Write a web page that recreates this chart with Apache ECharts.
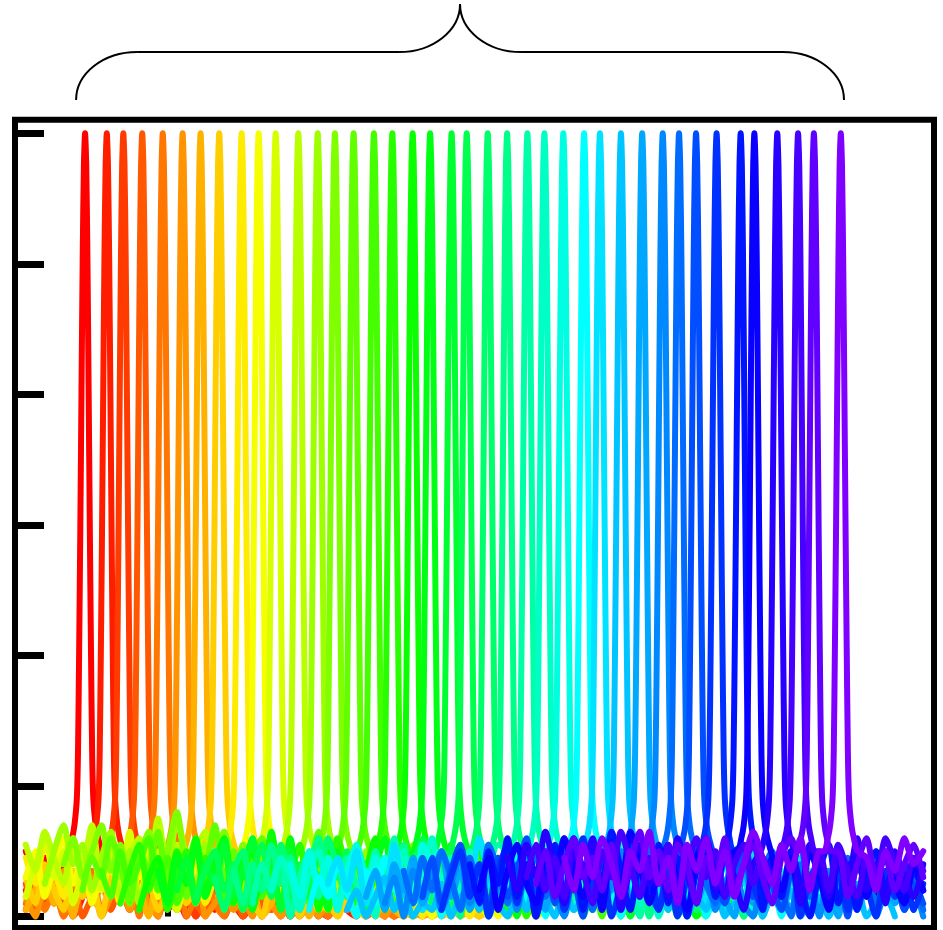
<!DOCTYPE html>
<html>
<head>
<meta charset="utf-8">
<script src="https://cdn.jsdelivr.net/npm/echarts@6/dist/echarts.min.js"></script>
<style>
html,body{margin:0;padding:0;background:#fff;}
#chart{width:943px;height:930px;}
</style>
</head>
<body>
<div id="chart"></div>
<script>
// ---- data ----
// peak centres (x units; axis ticks at 100,200,300,400)
const peakPositions = [65.1,74.3,81.3,89.3,98.0,106.4,114.0,121.9,131.4,138.6,145.8,155.4,163.6,170.9,178.8,187.4,195.2,203.8,211.2,220.3,226.7,235.6,243.8,252.4,259.6,267.6,276.4,283.1,292.0,301.0,309.7,316.6,323.8,332.5,342.7,348.5,358.2,367.0,373.7,385.1];
// common peak profile (offset from centre, height)
const peakOffsets = [-7,-5.5,-4.5,-3.5,-3,-2.5,-2,-1.5,-1,-0.5,0,0.5,1,1.5,2,2.5,3,3.5,4.5,5.5,7];
const peakHeights = [0.10,0.12,0.14,0.18,0.25,0.41,0.6,0.81,1.01,1.15,1.2,1.15,1.01,0.81,0.6,0.41,0.25,0.18,0.14,0.12,0.10];
// background noise of each trace (hundredths), sampled every 4 x units
const noiseStep = 4;
const noiseGridStart = 40;
const noiseGridEnd = 420;
const noiseHalfWindow = 118;
const baselineNoise = [
[10,7,9,6,8,5,7,9,6,3,5,1,4,2,6,1,3,0,4,2,5,1,3,0,2,4,1,3,0,2,1,3,0,2,1,2,1],
[4,1,6,2,5,0,3,6,1,4,2,7,1,3,0,5,2,4,0,3,1,5,2,0,3,1,4,0,2,1,3,0,2,4,1,0,2,1,0,1],
[1,5,2,6,0,4,7,2,5,1,3,6,0,4,2,5,1,3,0,4,2,0,3,1,5,0,2,1,3,0,2,1,0,2,1,3,0,1,2,0,1],
[5,1,4,7,2,6,0,3,5,1,6,2,4,0,3,6,1,4,2,0,5,1,3,0,4,2,1,3,0,2,4,1,0,2,1,3,0,1,2,0,1,2,0],
[2,6,1,4,0,5,3,7,1,4,2,6,0,3,5,1,4,0,3,6,2,0,4,1,3,0,5,2,0,3,1,4,0,2,1,3,0,2,1,0,2,1,0,1,2,1],
[3,0,5,2,7,1,4,6,0,3,5,1,6,2,0,4,3,1,5,0,2,4,1,3,0,5,2,0,3,1,4,0,2,1,3,0,2,1,0,2,1,0,1,2,0,1,0,1],
[1,4,7,2,5,0,6,3,1,5,8,2,4,0,6,3,1,5,2,4,0,3,6,1,4,0,2,5,1,3,0,4,2,0,3,1,2,0,3,1,0,2,1,0,1,2,0,1,0,1],
[6,2,8,4,1,7,3,5,0,6,2,8,3,5,1,4,7,2,5,0,3,6,1,4,2,0,5,2,3,0,4,1,2,0,3,1,0,2,1,3,0,1,2,0,1,0,2,1,0,1,0],
[9,5,11,7,3,10,6,12,4,8,2,9,6,11,3,7,10,5,8,2,6,9,4,7,1,5,8,3,6,2,7,4,1,5,3,6,0,4,2,5,1,3,0,4,2,1,3,0,2,1,3,0,1,2],
[6,10,3,8,12,5,9,2,7,11,4,9,6,13,3,8,5,10,2,7,9,4,6,11,3,8,5,2,7,4,9,1,6,3,8,2,5,7,1,4,6,2,5,0,3,6,1,4,2,5,0,3,1,2,0],
[3,8,12,6,10,2,7,11,4,9,5,13,3,8,10,5,1,7,11,4,8,6,2,9,5,10,3,7,1,6,9,4,2,7,5,8,1,4,6,2,5,0,3,7,2,4,1,5,2,0,3,4,1,2,0,1,2],
[11,7,13,9,5,12,8,14,6,10,3,9,12,7,15,8,11,5,10,13,6,9,4,11,7,12,5,8,10,3,9,6,11,4,8,2,7,10,5,8,3,6,9,4,7,2,5,8,3,6,1,4,7,2,5,3,6,1,4,2],
[5,10,14,8,11,4,9,13,6,10,2,8,12,7,15,9,4,11,6,13,8,3,10,7,12,5,9,2,8,11,6,9,3,7,10,4,8,1,6,9,3,7,5,2,8,4,6,1,5,7,2,4,6,1,3,5,2,4,1,3],
[8,12,6,10,14,7,11,3,9,13,5,10,16,8,12,4,9,13,6,11,3,8,12,7,10,2,9,11,5,8,12,4,7,10,3,8,6,11,2,7,9,4,8,1,6,10,3,7,5,2,6,8,3,5,1,4,7,2,4,1],
[4,9,6,12,8,2,10,7,13,5,9,3,11,8,14,6,10,2,9,12,5,8,11,4,7,13,6,9,1,7,10,5,8,3,11,6,2,8,5,9,3,7,10,4,6,1,8,5,3,7,2,6,4,1,5,7,2,4,1,3],
[7,3,10,5,8,12,4,9,2,7,11,5,9,1,8,6,12,3,7,10,4,8,2,11,6,9,3,7,12,5,8,1,6,10,4,7,2,9,5,3,8,11,4,6,1,7,9,3,5,2,8,4,6,0,5,3,7,1,4,2],
[2,7,11,4,8,1,6,10,3,9,5,12,2,7,10,4,8,1,6,11,3,9,5,12,7,2,8,4,10,6,1,9,5,7,3,8,11,4,2,6,9,3,7,0,5,8,2,6,4,1,7,3,5,0,4,6,2,3,1,2],
[1,6,9,3,10,5,12,4,8,11,2,7,10,5,13,6,9,3,8,1,11,6,9,4,7,12,5,2,9,6,10,3,7,11,4,8,1,6,9,3,7,10,2,5,8,3,6,0,5,8,2,4,7,1,5,3,6,0,3,2],
[7,2,9,5,11,3,8,12,4,9,1,7,10,5,12,3,8,6,1,10,5,9,2,7,12,4,8,3,10,6,1,9,4,7,11,3,8,5,0,7,10,4,6,2,8,5,1,6,3,7,0,4,6,2,5,1,3,0,2,1],
[4,9,2,8,5,11,3,7,12,4,9,1,10,6,3,11,7,2,8,10,4,9,1,7,11,5,8,2,10,6,4,9,3,11,6,1,8,5,2,7,10,4,1,8,5,9,2,6,0,4,7,2,5,1,6,3,0,4,1,3],
[3,7,10,4,8,1,6,11,3,9,2,8,5,12,4,7,10,3,1,9,6,11,2,8,12,5,9,3,7,10,4,1,8,5,10,3,7,2,6,9,4,0,7,5,8,2,6,1,4,7,3,5,0,4,2,5,1,3,1,2],
[6,1,7,10,3,8,5,11,6,2,9,4,12,7,3,9,5,10,1,6,11,4,8,2,7,0,9,5,10,3,7,12,4,8,1,6,3,10,5,2,8,4,7,0,6,9,3,2,7,4,6,1,5,8,2,5,0,4,2,3],
[7,2,8,4,11,5,9,1,7,12,4,9,3,10,6,1,8,5,11,2,7,10,4,9,0,6,3,10,5,8,12,6,2,9,4,10,3,7,1,8,5,11,3,7,0,5,9,4,1,7,3,6,2,5,0,4,7,2,4,1],
[2,8,4,9,0,6,10,3,8,1,9,5,2,10,6,12,4,8,1,7,10,3,9,5,2,7,11,4,9,3,7,10,5,1,8,4,11,6,2,9,5,0,7,3,10,5,1,7,4,9,2,6,3,8,0,5,2,4,6,1],
[4,9,6,1,7,10,3,8,5,11,6,0,9,4,10,2,7,12,5,9,3,10,6,1,8,5,11,7,2,9,4,10,1,7,3,8,5,11,6,2,8,0,5,10,3,7,1,5,9,3,6,0,5,8,2,6,4,7,1,3],
[8,3,10,5,9,1,7,11,4,9,2,10,6,3,11,8,2,6,10,4,8,0,7,10,3,9,5,11,6,2,8,4,10,1,7,3,9,11,4,8,2,6,10,5,1,9,4,7,2,8,0,5,7,3,6,1,5,2,6,3],
[1,6,3,8,4,0,7,2,9,5,1,8,3,6,0,5,9,2,7,1,8,4,10,2,6,0,8,5,1,7,3,9,4,0,6,3,8,1,5,9,2,6,0,4,8,3,1,7,2,5,0,6,1,3,5,0,4,1,3,2],
[5,9,4,10,2,7,4,11,5,8,1,7,10,3,9,5,12,6,2,8,4,10,1,7,11,3,8,4,7,10,5,1,9,6,11,3,7,10,4,8,2,7,1,9,5,10,3,8,2,6,9,4,7,0,5,8,3,5,1,4],
[1,4,0,3,6,1,4,0,2,1,5,0,3,4,1,7,2,0,4,1,6,3,0,5,1,3,6,0,3,1,4,0,2,6,1,4,0,3,1,5,0,2,1,6,0,3,1,4,0,2,3,0,3,1,5,0,2,3,0,1],
[3,7,1,8,4,9,2,6,10,3,7,1,6,9,2,8,4,10,5,1,8,3,9,2,6,11,4,7,1,9,5,0,8,4,10,2,6,9,3,0,8,2,6,9,4,1,7,3,8,5,0,6,3,5,1,7,2,4,1],
[2,6,0,7,3,8,1,5,9,2,6,0,5,8,1,7,3,9,4,0,6,3,8,1,5,10,2,7,1,8,4,0,7,3,9,1,5,8,2,0,7,3,5,8,1,6,0,7,3,5,1,6,0,4,7,1,4,0],
[7,2,9,4,10,6,1,9,3,11,7,2,8,5,10,3,7,12,4,8,1,7,10,3,9,5,11,6,1,8,4,10,5,2,9,6,11,3,7,10,4,0,8,3,7,1,6,9,3,7,2,6,9,3,6,1],
[3,9,2,7,11,5,8,1,9,3,7,12,4,8,2,10,6,0,8,5,11,3,7,10,4,1,9,3,7,11,5,8,2,7,10,3,9,5,1,7,11,4,8,2,7,0,8,5,10,3,7,1,5,2],
[1,6,10,3,8,0,7,11,2,8,0,6,10,1,7,12,4,9,0,5,11,3,8,1,7,0,6,10,3,9,0,7,11,5,1,9,3,10,0,6,8,2,7,1,10,5,0,7,3,8,1,5],
[8,2,10,5,12,3,8,0,7,11,3,9,1,10,5,13,7,1,8,4,11,2,9,0,7,10,3,8,5,12,6,1,9,3,10,5,0,7,11,2,8,1,7,10,4,9,2,7,4],
[4,9,1,7,11,5,2,10,5,12,7,3,9,1,10,4,13,8,2,7,11,5,1,9,12,6,3,10,5,0,8,11,4,9,2,10,6,1,9,4,11,3,7,10,5,2,8,4],
[9,4,11,6,13,7,2,10,6,12,4,9,1,8,11,5,10,3,12,7,2,9,4,11,6,1,8,12,5,10,7,2,11,8,3,9,6,12,4,8,2,10,6,3,8],
[6,11,4,9,3,12,7,2,10,6,13,8,3,9,5,11,4,8,12,6,10,3,8,11,5,9,6,2,8,12,5,10,4,11,7,3,9,6,12,8,4,9,7],
[5,10,3,8,12,6,9,4,11,3,8,13,6,10,4,11,8,2,9,6,12,4,8,11,6,2,9,12,7,4,11,6,10,3,8,12,6,9,4,8,11,6],
[9,4,11,6,12,8,3,10,7,13,5,9,2,11,7,12,5,10,3,8,13,9,5,11,7,12,4,10,6,11,7,13,9,4,10,7,12,8,10]
];
const xTickValues = [100,200,300,400];
const yTickValues = [0,0.2,0.4,0.6,0.8,1.0,1.2];
// brace span (x units) above the peaks
const braceSpan = [61.3, 386.45];

// ---- build ----
function hueColor(h){
  const c = 1, x = 1 - Math.abs((h/60)%2 - 1);
  let r,g,b;
  if(h<60){r=c;g=x;b=0;} else if(h<120){r=x;g=c;b=0;} else if(h<180){r=0;g=c;b=x;}
  else if(h<240){r=0;g=x;b=c;} else {r=x;g=0;b=c;}
  const hx=v=>Math.round(v*255).toString(16).padStart(2,'0');
  return '#'+hx(r)+hx(g)+hx(b);
}
const n = peakPositions.length;
const series = peakPositions.map((p,i)=>{
  const pts = [];
  const lo = Math.max(noiseGridStart, p - noiseHalfWindow);
  const hi = Math.min(noiseGridEnd, p + noiseHalfWindow);
  const x0 = noiseGridStart + noiseStep*Math.ceil((lo-noiseGridStart)/noiseStep);
  const nz = baselineNoise[i];
  for(let k=0;k<nz.length;k++){
    const x = x0 + noiseStep*k;
    if(x>hi) break;
    if(Math.abs(x-p) < 8.5) continue;
    pts.push([x, nz[k]/100]);
  }
  for(let k=0;k<peakOffsets.length;k++) pts.push([p+peakOffsets[k], peakHeights[k]]);
  pts.sort((a,b)=>a[0]-b[0]);
  const col = hueColor(270*i/(n-1));
  return {
    type:'line', data:pts, showSymbol:false, smooth:0.25,
    lineStyle:{width:6, color:col, cap:'round', join:'round'},
    itemStyle:{color:col},
    silent:true, animation:false, clip:true
  };
});

const chart = echarts.init(document.getElementById('chart'), null, {renderer:'canvas'});
const option = {
  animation:false,
  backgroundColor:'#fff',
  grid:{left:15, top:119.7, right:9, bottom:2, show:true, borderColor:'#000', borderWidth:6, backgroundColor:'transparent', containLabel:false},
  xAxis:{type:'value', min:35.43, max:424.56,
    axisLine:{show:false}, splitLine:{show:false}, axisLabel:{show:false},
    axisTick:{show:true, inside:true, length:29, customValues:xTickValues, lineStyle:{color:'#000', width:6}}},
  yAxis:{type:'value', min:-0.0176, max:1.2207,
    axisLine:{show:false}, splitLine:{show:false}, axisLabel:{show:false},
    axisTick:{show:true, inside:true, length:29, customValues:yTickValues, lineStyle:{color:'#000', width:7}}},
  series:series
};
chart.setOption(option);

// brace annotation
const L = chart.convertToPixel({gridIndex:0},[braceSpan[0],0])[0];
const R = chart.convertToPixel({gridIndex:0},[braceSpan[1],0])[0];
const M = (L+R)/2;
const yEnd=100, yFlat=52, yTip=4, rx=61;
const st = {stroke:'#000', lineWidth:2, fill:null};
chart.setOption({graphic:[
  {type:'bezierCurve', shape:{x1:L,y1:yEnd,cpx1:L,cpy1:yEnd-26.5,cpx2:L+rx-33.7,cpy2:yFlat,x2:L+rx,y2:yFlat}, style:st, silent:true},
  {type:'line', shape:{x1:L+rx,y1:yFlat,x2:M-rx,y2:yFlat}, style:st, silent:true},
  {type:'bezierCurve', shape:{x1:M-rx,y1:yFlat,cpx1:M-rx+34,cpy1:yFlat,cpx2:M,cpy2:yTip+26.5,x2:M,y2:yTip}, style:st, silent:true},
  {type:'bezierCurve', shape:{x1:M,y1:yTip,cpx1:M,cpy1:yTip+26.5,cpx2:M+rx-34,cpy2:yFlat,x2:M+rx,y2:yFlat}, style:st, silent:true},
  {type:'line', shape:{x1:M+rx,y1:yFlat,x2:R-rx,y2:yFlat}, style:st, silent:true},
  {type:'bezierCurve', shape:{x1:R-rx,y1:yFlat,cpx1:R-rx+33.7,cpy1:yFlat,cpx2:R,cpy2:yEnd-26.5,x2:R,y2:yEnd}, style:st, silent:true}
]});
</script>
</body>
</html>
